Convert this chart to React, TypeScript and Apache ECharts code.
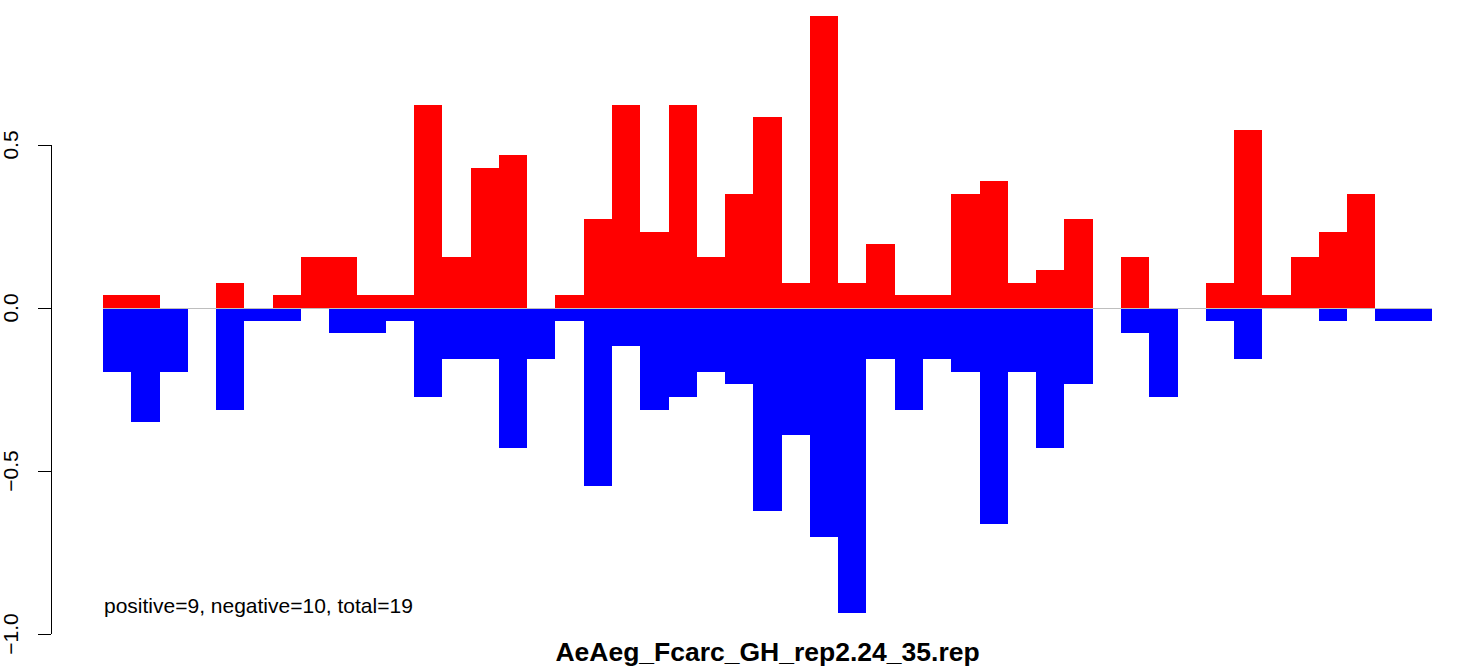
import React, { useEffect, useRef } from "react";
import * as echarts from "echarts";

const categories: string[] = Array.from({ length: 47 }, (_, i) => String(i + 1));

const positiveValues: number[] = [
  0.039, 0.039, 0, 0, 0.078, 0, 0.039, 0.156, 0.156, 0.039,
  0.039, 0.624, 0.156, 0.429, 0.468, 0, 0.039, 0.273, 0.624, 0.234,
  0.624, 0.156, 0.351, 0.585, 0.078, 0.897, 0.078, 0.195, 0.039, 0.039,
  0.351, 0.39, 0.078, 0.117, 0.273, 0, 0.156, 0, 0, 0.078,
  0.546, 0.039, 0.156, 0.234, 0.351, 0, 0,
];

const negativeValues: number[] = [
  -0.195, -0.351, -0.195, 0, -0.312, -0.039, -0.039, 0, -0.078, -0.078,
  -0.039, -0.273, -0.156, -0.156, -0.429, -0.156, -0.039, -0.546, -0.117, -0.312,
  -0.273, -0.195, -0.234, -0.624, -0.39, -0.702, -0.936, -0.156, -0.312, -0.156,
  -0.195, -0.663, -0.195, -0.429, -0.234, 0, -0.078, -0.273, 0, -0.039,
  -0.156, 0, 0, -0.039, 0, -0.039, -0.039,
];

const yTicks: number[] = [-1.0, -0.5, 0.0, 0.5];

const titleText = "AeAeg_Fcarc_GH_rep2.24_35.rep";
const noteText = "positive=9, negative=10, total=19";

const FONT = "'Liberation Sans', Arial, Helvetica, sans-serif";

export default function App() {
  const ref = useRef<HTMLDivElement>(null);

  useEffect(() => {
    if (!ref.current) return;
    const chart = echarts.init(ref.current, undefined, { renderer: "svg" });
    const option: any = {
      animation: false,
      backgroundColor: "#ffffff",
      title: {
        text: titleText,
        left: 767.5,
        top: 638,
        textAlign: "center",
        padding: 0,
        textStyle: {
          fontFamily: FONT,
          fontWeight: "bold",
          fontSize: 26.5,
          color: "#000000",
        },
      },
      grid: [
        { left: 103, right: 28, top: 14.6, bottom: 32 },
        { left: 50, width: 10, top: 145, bottom: 32 },
      ],
      xAxis: [
        {
          type: "category",
          gridIndex: 0,
          data: categories,
          show: false,
        },
        { type: "value", gridIndex: 1, show: false, min: 0, max: 1 },
      ],
      yAxis: [
        { type: "value", gridIndex: 0, min: -1, max: 0.9, show: false },
        {
          type: "value",
          gridIndex: 1,
          min: yTicks[0],
          max: yTicks[yTicks.length - 1],
          interval: 0.5,
          splitLine: { show: false },
          axisLine: { show: true, lineStyle: { color: "#000000", width: 1 } },
          axisTick: { show: true, length: 13, lineStyle: { color: "#000000", width: 1 } },
          axisLabel: {
            rotate: 90,
            margin: 30,
            fontFamily: FONT,
            fontSize: 21,
            color: "#000000",
            formatter: (v: number) => v.toFixed(1).replace("-", "\u2212"),
          },
        },
      ],
      graphic: [
        {
          type: "text",
          left: 104,
          top: 595,
          style: {
            text: noteText,
            fontFamily: FONT,
            fontSize: 21,
            fill: "#000000",
          },
        },
      ],
      series: [
        {
          type: "line",
          xAxisIndex: 0,
          yAxisIndex: 0,
          data: [],
          z: 1,
          markLine: {
            silent: true,
            symbol: "none",
            label: { show: false },
            lineStyle: { color: "#BEBEBE", width: 1, type: "solid" },
            data: [{ yAxis: 0 }],
          },
        },
        {
          name: "positive",
          type: "bar",
          xAxisIndex: 0,
          yAxisIndex: 0,
          data: positiveValues,
          barGap: "-100%",
          barCategoryGap: 0,
          itemStyle: { color: "#FF0000" },
          z: 3,
        },
        {
          name: "negative",
          type: "bar",
          xAxisIndex: 0,
          yAxisIndex: 0,
          data: negativeValues,
          barGap: "-100%",
          barCategoryGap: 0,
          itemStyle: { color: "#0000FF" },
          z: 3,
        },
      ],
    };
    chart.setOption(option);
    return () => chart.dispose();
  }, []);

  return (
    <>
      <style>{"#chart-root svg path { shape-rendering: crispEdges; }"}</style>
      <div
        id="chart-root"
        ref={ref}
        style={{ position: "absolute", left: 0, top: 0, width: 1460, height: 666 }}
      />
    </>
  );
}
